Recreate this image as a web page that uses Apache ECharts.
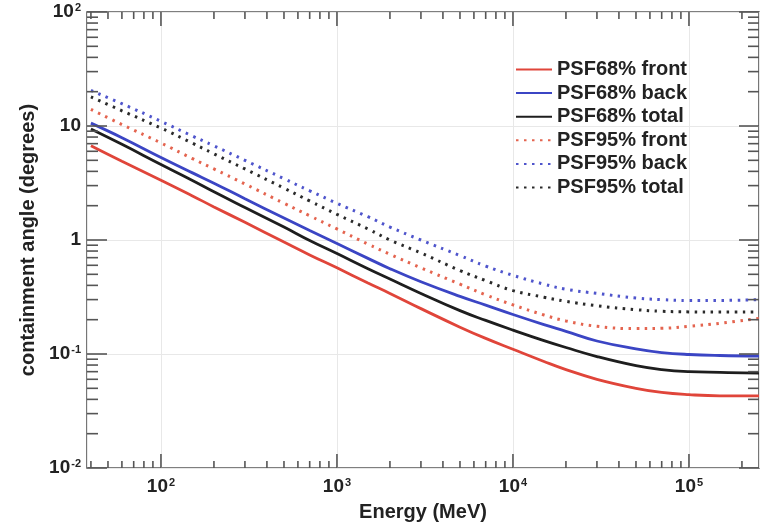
<!DOCTYPE html>
<html>
<head>
<meta charset="utf-8">
<script src="https://cdn.jsdelivr.net/npm/echarts@6/dist/echarts.min.js"></script>
<style>html,body{margin:0;padding:0;background:#fff;}#c{width:764px;height:527px;}</style>
</head>
<body>
<div id="c"></div>
<script>
// ---- data ----
const energies = [40, 60, 100, 150, 200, 300, 500, 700, 1000, 1500, 2000, 3000, 5000, 7000, 10000, 15000, 20000, 30000, 50000, 70000, 100000, 150000, 250000];
const psf68Front = [6.7, 4.9, 3.35, 2.45, 1.95, 1.43, 0.96, 0.74, 0.57, 0.42, 0.34, 0.25, 0.172, 0.137, 0.11, 0.086, 0.073, 0.060, 0.050, 0.046, 0.044, 0.043, 0.043];
const psf68Back = [10.6, 7.9, 5.3, 3.9, 3.15, 2.3, 1.56, 1.21, 0.93, 0.69, 0.56, 0.43, 0.32, 0.268, 0.222, 0.181, 0.158, 0.13, 0.111, 0.103, 0.099, 0.097, 0.096];
const psf68Total = [9.4, 6.9, 4.6, 3.35, 2.65, 1.93, 1.30, 0.99, 0.76, 0.56, 0.455, 0.34, 0.24, 0.197, 0.162, 0.131, 0.114, 0.095, 0.079, 0.073, 0.070, 0.069, 0.068];
const psf95Front = [14, 10.3, 7.1, 5.2, 4.2, 3.1, 2.1, 1.63, 1.25, 0.92, 0.75, 0.57, 0.41, 0.33, 0.27, 0.22, 0.195, 0.175, 0.167, 0.168, 0.175, 0.186, 0.205];
const psf95Back = [20.5, 15.7, 11, 8.2, 6.7, 5.0, 3.45, 2.7, 2.1, 1.6, 1.3, 1.0, 0.73, 0.59, 0.49, 0.41, 0.37, 0.34, 0.31, 0.30, 0.295, 0.295, 0.30];
const psf95Total = [18, 13.6, 9.6, 7.1, 5.7, 4.2, 2.85, 2.2, 1.68, 1.25, 1.0, 0.77, 0.54, 0.44, 0.36, 0.315, 0.29, 0.265, 0.245, 0.237, 0.234, 0.233, 0.234];
const seriesNames = ['PSF68% front', 'PSF68% back', 'PSF68% total', 'PSF95% front', 'PSF95% back', 'PSF95% total'];
const xMin = 38, xMax = 250000, yMin = 0.01, yMax = 100;

const FONT = '"Liberation Sans", Arial, Helvetica, sans-serif';
const chart = echarts.init(document.getElementById('c'), null, {renderer: 'canvas'});

function pairs(vals) { return energies.map((e, i) => [e, vals[i]]); }

const rich = {
  b: {fontSize: 19, fontWeight: 'bold', color: '#222', fontFamily: FONT},
  s: {fontSize: 11, fontWeight: 'bold', color: '#222', fontFamily: FONT, verticalAlign: 'top', padding: [0, 0, 0, 1]}
};
function fmtPow(v, allowPlain) {
  const k = Math.round(Math.log10(v));
  if (allowPlain && k === 0) return '{b|1}';
  if (allowPlain && k === 1) return '{b|10}';
  return '{b|10}{s|' + k + '}';
}

// minor/major tick values generated from decades
function tickList(lo, hi) {
  const out = [];
  for (let k = -3; k <= 6; k++) {
    for (let m = 1; m <= 9; m++) {
      const v = m * Math.pow(10, k);
      if (v >= lo * 0.9999 && v <= hi * 1.0001) out.push([v, m === 1]);
    }
  }
  return out;
}
const xTicks = tickList(xMin, xMax);
const yTicks = tickList(yMin, yMax);

function renderTicks(params, api) {
  const p0 = api.coord([xMin, yMin]);
  const p1 = api.coord([xMax, yMax]);
  const L = p0[0], B = p0[1], R = p1[0], T = p1[1];
  const st = {stroke: '#555', lineWidth: 1.6};
  const ch = [];
  xTicks.forEach(([v, maj]) => {
    const x = api.coord([v, yMin])[0];
    const len = maj ? 14 : 7;
    ch.push({type: 'line', shape: {x1: x, y1: B, x2: x, y2: B - len}, style: st});
    ch.push({type: 'line', shape: {x1: x, y1: T, x2: x, y2: T + len}, style: st});
  });
  yTicks.forEach(([v, maj]) => {
    const y = api.coord([xMin, v])[1];
    const len = maj ? 20 : 11;
    ch.push({type: 'line', shape: {x1: L, y1: y, x2: L + len, y2: y}, style: st});
    ch.push({type: 'line', shape: {x1: R, y1: y, x2: R - len, y2: y}, style: st});
  });
  return {type: 'group', children: ch};
}

function lineSeries(name, vals, color, dotted) {
  return {
    name: name, type: 'line', data: pairs(vals), symbol: 'none', showSymbol: false, smooth: 0.45,
    lineStyle: dotted ? {color: color, width: 3, type: [2.5, 5.5]} : {color: color, width: 2.8},
    itemStyle: {color: color}, z: 3
  };
}

const option = {
  animation: false,
  backgroundColor: '#fff',
  grid: {left: 87, right: 5, top: 12, bottom: 52, show: true, borderColor: '#555', borderWidth: 1.6, backgroundColor: 'transparent'},
  legend: {
    data: seriesNames, orient: 'vertical', left: 510, top: 54,
    itemWidth: 36, itemHeight: 14, itemGap: 2.6,
    itemStyle: {opacity: 0},
    textStyle: {fontSize: 20, fontWeight: 'bold', color: '#222', fontFamily: FONT, lineHeight: 21}
  },
  xAxis: {
    type: 'log', logBase: 10, min: xMin, max: xMax,
    name: 'Energy (MeV)', nameLocation: 'middle', nameGap: 34,
    nameTextStyle: {fontSize: 20, fontWeight: 'bold', color: '#222', fontFamily: FONT},
    axisLine: {show: false}, axisTick: {show: false},
    axisLabel: {showMinLabel: false, showMaxLabel: false, margin: 9, formatter: v => fmtPow(v, false), rich: rich},
    splitLine: {show: true, lineStyle: {color: '#e8e8e8', width: 1}},
    minorTick: {show: false}
  },
  yAxis: {
    type: 'log', logBase: 10, min: yMin, max: yMax,
    name: 'containment angle (degrees)', nameLocation: 'middle', nameGap: 43,
    nameTextStyle: {fontSize: 20, fontWeight: 'bold', color: '#222', fontFamily: FONT},
    axisLine: {show: false}, axisTick: {show: false},
    axisLabel: {margin: 6, formatter: v => fmtPow(v, true), rich: rich},
    splitLine: {show: true, lineStyle: {color: '#e8e8e8', width: 1}}
  },
  series: [
    lineSeries(seriesNames[0], psf68Front, '#e0453a', false),
    lineSeries(seriesNames[1], psf68Back, '#3b45c4', false),
    lineSeries(seriesNames[2], psf68Total, '#1e1e1e', false),
    lineSeries(seriesNames[3], psf95Front, '#e4644f', true),
    lineSeries(seriesNames[4], psf95Back, '#4f55cc', true),
    lineSeries(seriesNames[5], psf95Total, '#2a2a2a', true),
    {type: 'custom', name: 'ticks', silent: true, renderItem: renderTicks, data: [[100, 1]], z: 5, clip: false}
  ]
};
chart.setOption(option);
</script>
</body>
</html>
